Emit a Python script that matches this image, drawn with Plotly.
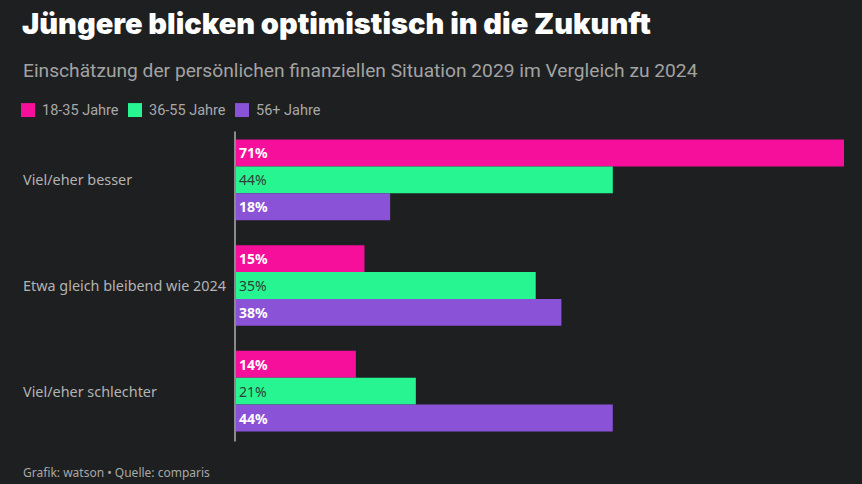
import plotly.graph_objects as go

categories = ["Viel/eher besser", "Etwa gleich bleibend wie 2024", "Viel/eher schlechter"]
series_names = ["18-35 Jahre", "36-55 Jahre", "56+ Jahre"]
values_18_35 = [71, 15, 14]
values_36_55 = [44, 35, 21]
values_56 = [18, 38, 44]

title = "Jüngere blicken optimistisch in die Zukunft"
subtitle = "Einschätzung der persönlichen finanziellen Situation 2029 im Vergleich zu 2024"
footer = "Grafik: watson • Quelle: comparis"

colors = ["#f50f9a", "#27f592", "#8a52d6"]
text_colors = ["#ffffff", "#2e3f36", "#ffffff"]
text_bold = [True, False, True]

W, H = 862, 484
L, R, T, B = 236, 18, 126.5, 39.5
PW, PH = W - L - R, H - T - B
BG = "#1e1f21"

def px(x):
    return (x - L) / PW

def py(y):
    return (H - B - y) / PH

fig = go.Figure()
all_vals = [values_18_35, values_36_55, values_56]
for name, vals, c, tc, b in zip(series_names, all_vals, colors, text_colors, text_bold):
    tmpl = "<b>%{x}%</b>" if b else "%{x}%"
    fig.add_trace(go.Bar(
        y=categories, x=vals, name=name, orientation="h",
        marker=dict(color=c, line=dict(width=0)),
        texttemplate=tmpl, textposition="inside", insidetextanchor="start",
        textfont=dict(color=tc, size=14, family="Noto Sans"),
        showlegend=False, hoverinfo="skip",
    ))

annotations = []
# title, subtitle, footer
annotations.append(dict(text=title, x=px(20), y=py(23), xref="paper", yref="paper",
                        xanchor="left", yanchor="middle", showarrow=False,
                        font=dict(family="Inter", size=29, color="#ffffff", weight=900)))
annotations.append(dict(text=subtitle, x=px(21), y=py(70), xref="paper", yref="paper",
                        xanchor="left", yanchor="middle", showarrow=False,
                        font=dict(family="Roboto", size=19.2, color="#a3a3a3")))
annotations.append(dict(text=footer, x=px(21), y=py(473), xref="paper", yref="paper",
                        xanchor="left", yanchor="middle", showarrow=False,
                        font=dict(family="Noto Sans", size=12, color="#a8a8a8")))
# category labels
for cat in categories:
    annotations.append(dict(text=cat, x=px(21), y=cat, xref="paper", yref="y",
                            xanchor="left", yanchor="middle", showarrow=False,
                            font=dict(family="Noto Sans", size=14.4, color="#b3b3b3")))

shapes = []
# legend
legend_x = [21, 128, 235]
for lx, name, c in zip(legend_x, series_names, colors):
    shapes.append(dict(type="rect", xref="paper", yref="paper",
                       x0=px(lx), x1=px(lx + 14), y0=py(116.5), y1=py(102.5),
                       fillcolor=c, line=dict(width=0), layer="above"))
    annotations.append(dict(text=name, x=px(lx + 19), y=py(109.5), xref="paper", yref="paper",
                            xanchor="left", yanchor="middle", showarrow=False,
                            font=dict(family="Roboto", size=14.5, color="#a8a8a8")))
# axis line
shapes.append(dict(type="line", xref="paper", yref="paper", x0=px(235), x1=px(235),
                   y0=py(131), y1=py(442), line=dict(color="#8a8a8a", width=2), layer="above"))

fig.update_layout(
    width=W, height=H,
    margin=dict(l=L, r=R, t=T, b=B),
    paper_bgcolor=BG, plot_bgcolor=BG,
    barmode="group", bargap=0.236, bargroupgap=0,
    uniformtext=dict(minsize=14, mode="show"),
    xaxis=dict(range=[0, 71], visible=False, fixedrange=True),
    yaxis=dict(autorange="reversed", showticklabels=False, showgrid=False,
               zeroline=False, showline=False, fixedrange=True),
    annotations=annotations, shapes=shapes,
)

fig.write_html("out.html", config={"displayModeBar": False},
               post_script="document.body.style.margin='0';document.body.style.background='#1e1f21';")
